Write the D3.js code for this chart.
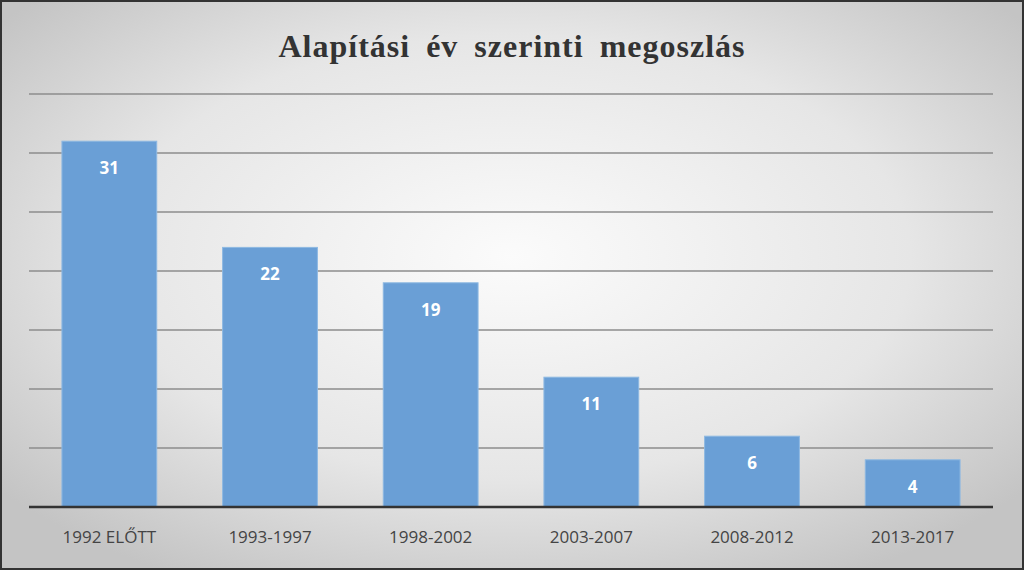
<!DOCTYPE html>
<html><head><meta charset="utf-8">
<script src="https://cdn.jsdelivr.net/npm/d3@7"></script>
<style>body{margin:0;background:#fff}</style></head>
<body><svg id="c" width="1024" height="570"></svg>
<script>
const categories = ["1992 ELŐTT","1993-1997","1998-2002","2003-2007","2008-2012","2013-2017"];
const values = [31,22,19,11,6,4];
const gridTicks = [0,5,10,15,20,25,30,35];
const title = "Alapítási év szerinti megoszlás";

const svg = d3.select("#c");
const defs = svg.append("defs");
const g = defs.append("radialGradient").attr("id","bg").attr("cx","50%").attr("cy","45%").attr("r","65%");
g.append("stop").attr("offset","0%").attr("stop-color","#fbfbfb");
g.append("stop").attr("offset","60%").attr("stop-color","#e6e6e6");
g.append("stop").attr("offset","100%").attr("stop-color","#c4c4c4");
svg.append("rect").attr("x",1).attr("y",1).attr("width",1022).attr("height",568)
  .attr("fill","url(#bg)").attr("stroke","#333").attr("stroke-width",2);

const x = d3.scaleBand().domain(categories).range([29,993]).paddingInner(0.41).paddingOuter(0.205);
const y = d3.scaleLinear().domain([0,35]).range([507,94]);

svg.append("g").selectAll("line").data(gridTicks.slice(1)).join("line")
  .attr("x1",29).attr("x2",993).attr("y1",d=>y(d)).attr("y2",d=>y(d))
  .attr("stroke","#8c8c8c").attr("stroke-width",1.3);

svg.append("g").selectAll("rect").data(values).join("rect")
  .attr("x",(d,i)=>x(categories[i])).attr("width",x.bandwidth())
  .attr("y",d=>y(d)).attr("height",d=>y(0)-y(d))
  .attr("fill","#6a9fd6").attr("stroke","#8db8e2").attr("stroke-width",1);

svg.append("g").selectAll("text").data(values).join("text")
  .attr("x",(d,i)=>x(categories[i])+x.bandwidth()/2).attr("y",d=>y(d)+33)
  .attr("text-anchor","middle").attr("fill","#fff").attr("font-weight","bold")
  .attr("font-family","Open Sans, sans-serif").attr("font-size",17).text(d=>d);

svg.append("line").attr("x1",29).attr("x2",993).attr("y1",y(0)).attr("y2",y(0))
  .attr("stroke","#333").attr("stroke-width",2.5);

const ax = svg.append("g").attr("transform",`translate(0,${y(0)})`)
  .call(d3.axisBottom(x).tickSize(0).tickPadding(24));
ax.select(".domain").remove();
ax.selectAll("text").attr("font-family","Open Sans, sans-serif").attr("font-size",17).attr("fill","#444");

svg.append("text").attr("x",512).attr("y",57).attr("text-anchor","middle")
  .attr("font-family","Liberation Serif, serif").attr("font-weight","bold")
  .attr("font-size",32).attr("word-spacing",7).attr("letter-spacing",1).attr("fill","#333").text(title);
</script></body></html>
